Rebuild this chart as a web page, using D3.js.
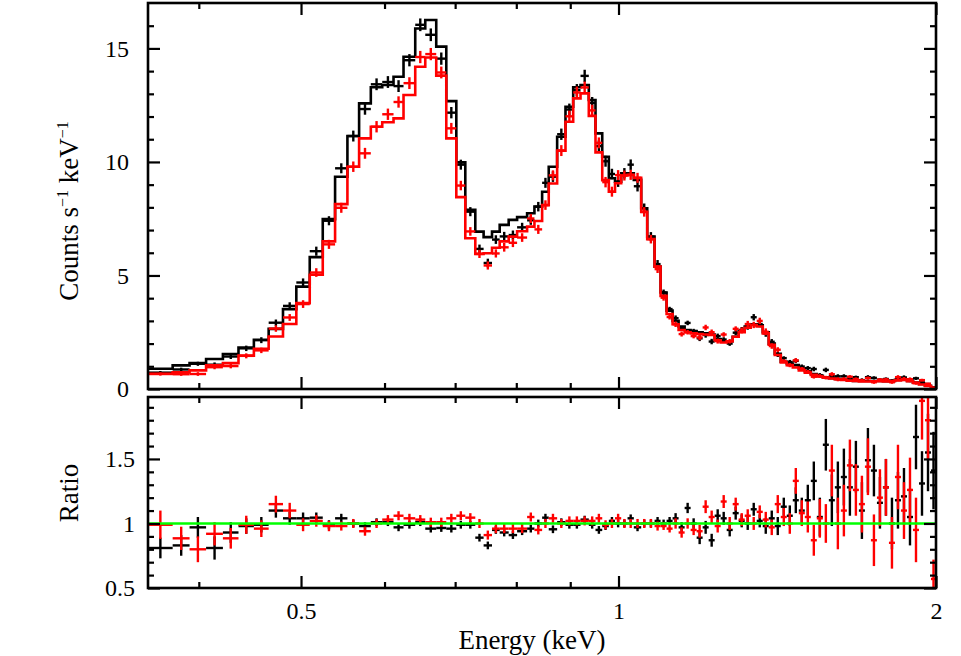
<!DOCTYPE html>
<html><head><meta charset="utf-8">
<script src="https://cdn.jsdelivr.net/npm/d3@7"></script>
<style>
body{margin:0;background:#fff}
svg{display:block}
</style>
</head><body>
<svg id="chart" width="961" height="656"></svg>
<script>
// ---------- DATA ----------
// Channel bin edges in keV (shared by both data sets)
const binEdges = [0.3578,0.3778,0.3920,0.4064,0.4216,0.4362,0.4511,0.4659,0.4807,0.4949,
0.5096,0.5243,0.5386,0.5533,0.5676,0.5823,0.5970,0.6119,0.6254,0.6416,
0.6558,0.6717,0.6866,0.7018,0.7157,0.7315,0.7449,0.7587,0.7715,0.7868,
0.8014,0.8191,0.8323,0.8464,0.8587,0.8746,0.8907,0.9058,0.9204,0.9372,
0.9510,0.9651,0.9791,0.9924,1.0059,1.0199,1.0340,1.0508,1.0647,1.0819,
1.0962,1.1107,1.1253,1.1402,1.1553,1.1705,1.1860,1.2016,1.2175,1.2336,
1.2499,1.2664,1.2831,1.3000,1.3172,1.3346,1.3522,1.3701,1.3882,1.4065,
1.4251,1.4439,1.4630,1.4823,1.5019,1.5217,1.5418,1.5622,1.5828,1.6037,
1.6249,1.6464,1.6681,1.6901,1.7125,1.7351,1.7580,1.7812,1.8047,1.8286,
1.8527,1.8772,1.9020,1.9271,1.9525,1.9783,2.0000];

// Folded model, counts s^-1 keV^-1
const modelBlack = [0.89,1.04,1.14,1.32,1.54,1.83,2.17,2.65,3.52,4.51,
5.81,7.48,9.35,11.14,12.58,13.29,13.39,13.75,14.63,15.88,
16.25,15.08,12.68,9.98,7.89,6.93,6.69,6.93,7.23,7.45,
7.57,7.74,8.03,8.69,9.79,11.11,12.43,13.29,13.39,12.73,
11.26,10.23,9.28,9.13,9.5,9.5,9.21,7.96,6.71,5.39,
4.25,3.45,3.0,2.75,2.6,2.55,2.5,2.45,2.4,2.2,
2.1,2.1,2.3,2.55,2.75,2.85,2.8,2.5,2.0,1.55,
1.2,1.12,1.05,0.9,0.78,0.66,0.58,0.52,0.48,0.44,
0.41,0.38,0.36,0.35,0.35,0.35,0.35,0.34,0.36,0.4,
0.42,0.36,0.28,0.22,0.14,0.06];
const modelRed = [0.67,0.73,0.82,1.04,1.14,1.47,1.77,2.31,2.86,3.78,
5.03,6.5,8.14,9.79,11.04,11.55,11.75,11.92,12.95,14.19,
14.6,13.8,11.04,8.45,6.64,5.95,5.98,6.22,6.5,6.71,
6.95,7.15,7.4,8.1,9.05,10.5,11.77,12.8,13.02,12.03,
10.42,9.2,8.69,9.06,9.4,9.43,9.3,7.8,6.6,5.39,
4.1,3.3,2.85,2.6,2.5,2.45,2.42,2.4,2.38,2.15,
2.05,2.1,2.3,2.5,2.7,2.82,2.75,2.45,1.95,1.5,
1.17,1.05,0.95,0.82,0.72,0.62,0.55,0.5,0.46,0.43,
0.4,0.37,0.35,0.33,0.33,0.34,0.34,0.33,0.35,0.38,
0.4,0.34,0.27,0.2,0.13,0.06];

// Data points, counts s^-1 keV^-1
const countsBlack = [0.72,0.86,1.11,1.07,1.43,1.79,2.15,2.92,3.66,4.69,
6.07,7.41,9.72,11.14,12.33,13.42,13.52,13.34,14.48,16.04,
15.6,14.55,12.17,9.88,7.81,6.17,5.55,6.58,6.72,6.78,
7.12,7.43,8.03,9.08,9.35,11.22,12.31,13.16,13.79,12.6,
10.7,10.03,9.47,9.13,9.5,9.88,8.93,7.96,6.71,5.5,
4.25,3.52,3.12,2.67,2.91,2.55,2.23,2.38,2.09,2.33,
2.18,2.0,2.48,2.6,2.75,3.16,2.86,2.45,2.08,1.52,
1.36,1.19,1.24,0.99,0.92,0.88,0.61,0.84,0.57,0.56,
0.56,0.49,0.52,0.39,0.52,0.49,0.41,0.44,0.36,0.47,
0.51,0.38,0.47,0.29,0.22,0.08];
const countsErrBlack = [0.07,0.08,0.09,0.1,0.11,0.12,0.13,0.14,0.16,0.18,
0.2,0.2,0.22,0.24,0.25,0.26,0.26,0.26,0.27,0.28,
0.28,0.27,0.25,0.22,0.2,0.19,0.19,0.19,0.2,0.2,
0.2,0.2,0.21,0.22,0.23,0.25,0.26,0.27,0.27,0.26,
0.25,0.24,0.23,0.23,0.23,0.23,0.23,0.21,0.2,0.18,
0.13,0.1,0.12,0.11,0.1,0.1,0.12,0.12,0.12,0.11,
0.1,0.1,0.11,0.13,0.14,0.14,0.14,0.15,0.12,0.11,
0.08,0.09,0.1,0.09,0.09,0.1,0.09,0.1,0.1,0.09,
0.09,0.08,0.07,0.08,0.09,0.07,0.07,0.07,0.07,0.09,
0.09,0.08,0.07,0.055,0.04,0.02];
const countsRed = [0.66,0.65,0.66,0.96,1.01,1.46,1.70,2.66,3.15,3.74,
5.13,6.37,7.98,9.79,10.38,11.55,12.1,12.64,13.47,14.62,
14.75,13.94,11.48,8.96,6.94,5.95,5.44,5.97,6.24,6.44,
6.67,7.51,7.03,8.1,9.41,10.5,12.01,13.06,13.28,12.27,
10.84,9.11,8.69,9.42,9.4,9.43,9.3,7.8,6.6,5.28,
4.02,3.17,2.85,2.42,2.5,2.33,2.27,2.71,2.5,2.11,
2.4,2.1,2.65,2.58,2.86,2.82,3.0,2.52,1.89,1.73,
1.23,1.05,1.26,0.89,0.76,0.54,0.57,0.5,0.65,0.43,
0.44,0.54,0.44,0.38,0.48,0.3,0.41,0.42,0.3,0.52,
0.44,0.43,0.26,0.39,0.23,0.03];
const countsErrRed = [0.07,0.07,0.08,0.09,0.1,0.11,0.12,0.14,0.15,0.17,
0.19,0.2,0.22,0.23,0.24,0.25,0.25,0.25,0.26,0.27,
0.27,0.26,0.24,0.21,0.19,0.18,0.18,0.18,0.19,0.19,
0.19,0.2,0.2,0.21,0.22,0.24,0.25,0.26,0.26,0.25,
0.24,0.23,0.22,0.22,0.22,0.22,0.22,0.21,0.19,0.17,
0.13,0.11,0.12,0.11,0.1,0.1,0.12,0.12,0.12,0.11,
0.1,0.1,0.11,0.13,0.14,0.14,0.14,0.15,0.12,0.11,
0.08,0.09,0.1,0.08,0.08,0.08,0.08,0.08,0.09,0.09,
0.08,0.07,0.07,0.07,0.07,0.07,0.07,0.07,0.07,0.09,
0.09,0.08,0.07,0.06,0.04,0.02];

// Ratio (data / model)
const ratioBlack = [0.81,0.83,0.97,0.81,0.93,0.98,0.99,1.10,1.04,1.04,
1.045,0.99,1.04,1.0,0.98,1.01,1.01,0.97,0.99,1.01,
0.96,0.965,0.96,0.99,0.99,0.89,0.83,0.95,0.93,0.91,
0.94,0.96,1.0,1.045,0.955,1.01,0.99,0.99,1.03,0.99,
0.95,0.98,1.02,1.0,1.0,1.04,0.97,1.0,1.0,1.02,
1.0,1.02,1.04,0.97,1.12,1.0,0.89,0.97,0.87,1.06,
1.04,0.95,1.08,1.02,1.0,1.11,1.02,0.98,1.04,0.98,
1.13,1.06,1.18,1.1,1.18,1.33,1.05,1.61,1.18,1.28,
1.36,1.28,1.44,1.1,1.49,1.41,1.16,1.28,1.0,1.18,
1.21,1.05,1.67,1.31,1.55,1.41];
const ratioErrBlack = [0.08,0.08,0.08,0.09,0.08,0.06,0.06,0.055,0.05,0.045,
0.04,0.035,0.035,0.03,0.03,0.03,0.03,0.03,0.03,0.03,
0.03,0.03,0.03,0.03,0.03,0.03,0.03,0.03,0.03,0.03,
0.03,0.03,0.03,0.03,0.03,0.03,0.03,0.03,0.03,0.03,
0.03,0.03,0.03,0.03,0.03,0.03,0.03,0.03,0.03,0.03,
0.03,0.03,0.04,0.04,0.04,0.04,0.05,0.05,0.05,0.05,
0.05,0.05,0.05,0.05,0.05,0.05,0.05,0.06,0.06,0.07,
0.07,0.08,0.1,0.1,0.12,0.15,0.15,0.2,0.2,0.2,
0.22,0.22,0.2,0.22,0.25,0.2,0.2,0.22,0.2,0.22,
0.22,0.22,0.25,0.25,0.3,0.3];
const ratioRed = [0.99,0.885,0.80,0.92,0.885,0.99,0.96,1.15,1.10,0.99,
1.02,0.98,0.98,1.0,0.94,1.0,1.03,1.06,1.04,1.03,
1.01,1.01,1.04,1.06,1.045,1.0,0.91,0.96,0.96,0.96,
0.96,1.05,0.95,1.0,1.04,1.0,1.02,1.02,1.02,1.02,
1.04,0.99,1.0,1.04,1.0,1.0,1.0,1.0,1.0,0.98,
0.98,0.96,1.0,0.93,1.0,0.95,0.94,1.13,1.05,0.98,
1.17,1.0,1.15,1.03,1.06,1.0,1.09,1.03,0.97,1.15,
1.05,1.0,1.33,1.08,1.05,0.87,1.04,1.0,1.41,1.0,
1.1,1.45,1.26,1.15,1.44,0.87,1.2,1.28,0.85,1.36,
1.1,1.26,0.95,1.95,1.8,0.57];
const ratioErrRed = [0.11,0.09,0.1,0.09,0.08,0.07,0.065,0.065,0.06,0.05,
0.045,0.04,0.035,0.035,0.035,0.035,0.035,0.035,0.035,0.035,
0.035,0.035,0.035,0.035,0.035,0.035,0.035,0.035,0.035,0.035,
0.035,0.035,0.035,0.035,0.035,0.035,0.035,0.035,0.035,0.035,
0.035,0.035,0.035,0.035,0.035,0.035,0.035,0.035,0.035,0.035,
0.03,0.03,0.04,0.04,0.04,0.04,0.05,0.05,0.05,0.05,
0.05,0.05,0.05,0.05,0.05,0.05,0.05,0.06,0.06,0.07,
0.07,0.08,0.1,0.1,0.12,0.12,0.15,0.15,0.2,0.2,
0.2,0.2,0.2,0.22,0.22,0.2,0.22,0.22,0.2,0.25,
0.22,0.25,0.25,0.3,0.3,0.15];

// Axis ticks
const xMajorTicks = [0.5, 1, 2];
const xMinorTicks = [0.4, 0.6, 0.7, 0.8, 0.9];
const yTopMajor = [0, 5, 10, 15];
const yTopMinor = [1,2,3,4,6,7,8,9,11,12,13,14,16];
const yBotMajor = [0.5, 1, 1.5];
const yBotMinor = [0.6,0.7,0.8,0.9,1.1,1.2,1.3,1.4,1.6,1.7,1.8,1.9];

// ---------- LAYOUT ----------
const FONT = "'Liberation Serif', 'DejaVu Serif', serif";
const L = 148, R = 936, T1 = 3, B1 = 389, T2 = 397, B2 = 588;
const svg = d3.select("#chart");
const x = d3.scaleLog().domain([0.358, 2.0]).range([L, R]);
const y1 = d3.scaleLinear().domain([0, 17.0]).range([B1, T1]);
const y2 = d3.scaleLinear().domain([0.5, 1.98]).range([B2, T2]);

const bins = d3.range(binEdges.length - 1).map(i => ({
  lo: binEdges[i], hi: binEdges[i+1], mid: (binEdges[i] + binEdges[i+1]) / 2, i
}));

const defs = svg.append("defs");
defs.append("clipPath").attr("id","clipTop")
  .append("rect").attr("x",L).attr("y",T1).attr("width",R-L).attr("height",B1-T1);
defs.append("clipPath").attr("id","clipBot")
  .append("rect").attr("x",L).attr("y",T2).attr("width",R-L).attr("height",B2-T2);

function stepPath(vals, ys) {
  let d = "";
  bins.forEach((b, i) => {
    const yy = ys(vals[i]);
    d += (i === 0 ? "M" : "L") + x(b.lo) + "," + yy + "L" + x(b.hi) + "," + yy;
  });
  return d;
}

function crosses(g, vals, errs, ys, color) {
  const gg = g.append("g").attr("stroke", color).attr("stroke-width", 2.4).attr("fill","none");
  bins.forEach((b, i) => {
    const yy = ys(vals[i]);
    gg.append("line").attr("x1", x(b.lo)).attr("x2", x(b.hi)).attr("y1", yy).attr("y2", yy);
    gg.append("line").attr("x1", x(b.mid)).attr("x2", x(b.mid))
      .attr("y1", ys(vals[i] - errs[i])).attr("y2", ys(vals[i] + errs[i]));
  });
}

// ---------- TOP PANEL ----------
const gTop = svg.append("g").attr("clip-path","url(#clipTop)");
crosses(gTop, countsBlack, countsErrBlack, y1, "#000");
gTop.append("path").attr("d", stepPath(modelBlack, y1)).attr("fill","none")
  .attr("stroke","#000").attr("stroke-width",2.6).attr("stroke-linejoin","miter");
crosses(gTop, countsRed, countsErrRed, y1, "#ff0000");
gTop.append("path").attr("d", stepPath(modelRed, y1)).attr("fill","none")
  .attr("stroke","#ff0000").attr("stroke-width",2.6).attr("stroke-linejoin","miter");

// ---------- BOTTOM PANEL ----------
const gBot = svg.append("g").attr("clip-path","url(#clipBot)");
crosses(gBot, ratioBlack, ratioErrBlack, y2, "#000");
crosses(gBot, ratioRed, ratioErrRed, y2, "#ff0000");
gBot.append("line").attr("x1", L).attr("x2", R).attr("y1", y2(1)).attr("y2", y2(1))
  .attr("stroke","#00ff00").attr("stroke-width",2.6);

// ---------- AXES ----------
const fmt = d => (d === 0.5 ? "0.5" : d === 1.5 ? "1.5" : String(d));
function styleAxis(g) {
  g.attr("font-family", FONT);
  g.select(".domain").remove();
  g.selectAll(".tick line").attr("stroke","#000").attr("stroke-width",2.2);
  g.selectAll(".tick text").style("font-family", FONT).style("font-size","24px").attr("fill","#000");
}
function addAxis(axis, tx, ty) {
  svg.append("g").attr("transform", `translate(${tx},${ty})`).call(axis).call(styleAxis);
}
// x axes (both panels, top and bottom edges)
[[T1, false],[B1, false],[T2, false],[B2, true]].forEach(([yy, labels]) => {
  const isTopEdge = (yy === T1 || yy === T2);
  const mk = isTopEdge ? d3.axisTop : d3.axisBottom;
  addAxis(mk(x).tickValues(xMajorTicks).tickSize(-12).tickPadding(14)
    .tickFormat(labels ? fmt : () => ""), 0, yy);
  addAxis(mk(x).tickValues(xMinorTicks).tickSize(-6).tickFormat(() => ""), 0, yy);
});
// y axes top panel
addAxis(d3.axisLeft(y1).tickValues(yTopMajor).tickSize(-12).tickPadding(19).tickFormat(fmt), L, 0);
addAxis(d3.axisLeft(y1).tickValues(yTopMinor).tickSize(-6).tickFormat(() => ""), L, 0);
addAxis(d3.axisRight(y1).tickValues(yTopMajor).tickSize(-12).tickFormat(() => ""), R, 0);
addAxis(d3.axisRight(y1).tickValues(yTopMinor).tickSize(-6).tickFormat(() => ""), R, 0);
// y axes bottom panel
addAxis(d3.axisLeft(y2).tickValues(yBotMajor).tickSize(-12).tickPadding(13).tickFormat(fmt), L, 0);
addAxis(d3.axisLeft(y2).tickValues(yBotMinor).tickSize(-6).tickFormat(() => ""), L, 0);
addAxis(d3.axisRight(y2).tickValues(yBotMajor).tickSize(-12).tickFormat(() => ""), R, 0);
addAxis(d3.axisRight(y2).tickValues(yBotMinor).tickSize(-6).tickFormat(() => ""), R, 0);

// frames
[[T1,B1],[T2,B2]].forEach(([t,b]) => {
  svg.append("rect").attr("x",L).attr("y",t).attr("width",R-L).attr("height",b-t)
    .attr("fill","none").attr("stroke","#000").attr("stroke-width",2.6);
});

// ---------- TITLES ----------
const yt = svg.append("text").attr("transform","translate(78,211) rotate(-90)")
  .attr("text-anchor","middle").style("font-family", FONT).style("font-size","27px");
yt.append("tspan").text("Counts s");
yt.append("tspan").text("\u22121").attr("dy",-10).style("font-size","16px");
yt.append("tspan").text(" keV").attr("dy",10);
yt.append("tspan").text("\u22121").attr("dy",-10).style("font-size","16px");

svg.append("text").attr("transform","translate(78,493) rotate(-90)")
  .attr("text-anchor","middle").style("font-family", FONT).style("font-size","27px").text("Ratio");

svg.append("text").attr("x",532).attr("y",649).attr("text-anchor","middle")
  .style("font-family", FONT).style("font-size","27px").text("Energy (keV)");
</script>
</body></html>
